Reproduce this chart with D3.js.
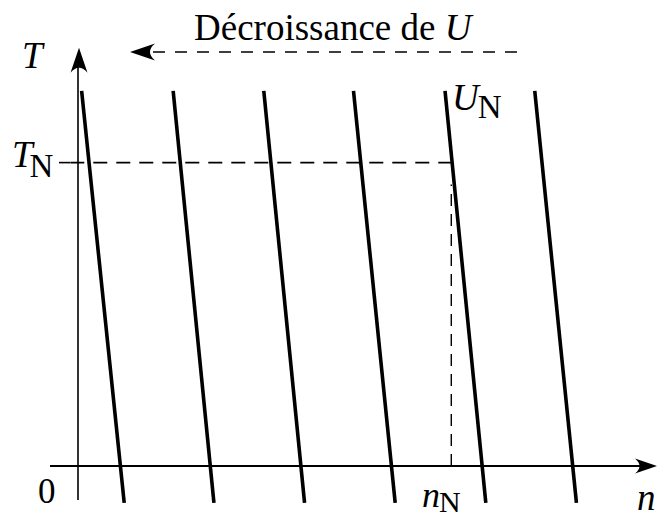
<!DOCTYPE html>
<html>
<head>
<meta charset="utf-8">
<script src="https://cdn.jsdelivr.net/npm/d3@7"></script>
<style>
  html, body { margin: 0; padding: 0; background: #fff; }
  svg { display: block; }
  text { font-family: "Liberation Serif", "Times New Roman", serif; fill: #000; }
</style>
</head>
<body>
<svg id="chart" width="658" height="519"></svg>
<script>
// Torque–speed characteristics of the motor for decreasing supply voltage U.
// Each characteristic is a straight segment: speed n at the top and bottom torque values.
const curveNames = ["U1", "U2", "U3", "U4", "UN", "U6"];
const nAtTop     = [0.04, 1.05, 2.05, 3.04, 4.05, 5.04];
const nAtBottom  = [0.51, 1.50, 2.50, 3.50, 4.50, 5.50];
const torqueTop = 0.915;
const torqueBottom = -0.09;

// Nominal operating point on the U_N characteristic
const torqueNominal = 0.74;
const speedNominal = 4.13;

const svg = d3.select("#chart");
const x = d3.scaleLinear().domain([0, 6.4]).range([78, 658]);
const y = d3.scaleLinear().domain([0, 1]).range([466, 56]);

// arrow heads with a concave back
function arrowHead(tipX, tipY, angle, len, half, notch) {
  const p = d3.path();
  p.moveTo(0, 0);
  p.lineTo(-len, -half);
  p.quadraticCurveTo(-len + notch, 0, -len, half);
  p.closePath();
  svg.append("path")
    .attr("d", p.toString())
    .attr("transform", `translate(${tipX},${tipY}) rotate(${angle})`)
    .attr("fill", "#000");
}

// axes
svg.append("line")
  .attr("x1", x(0)).attr("x2", x(0))
  .attr("y1", 500).attr("y2", y(0.99))
  .attr("stroke", "#000").attr("stroke-width", 1.6);
arrowHead(x(0) + 1, y(1.02), -90, 25, 8.5, 10);

svg.append("line")
  .attr("x1", 50).attr("x2", 650)
  .attr("y1", y(0)).attr("y2", y(0))
  .attr("stroke", "#000").attr("stroke-width", 2);
arrowHead(657, y(0), 0, 22, 7.5, 9);

// characteristics
const line = d3.line().x(d => x(d[0])).y(d => y(d[1]));
svg.selectAll("path.curve")
  .data(curveNames.map((name, i) => ({ name, pts: [[nAtTop[i], torqueTop], [nAtBottom[i], torqueBottom]] })))
  .join("path")
  .attr("class", "curve")
  .attr("d", d => line(d.pts))
  .attr("fill", "none")
  .attr("stroke", "#000")
  .attr("stroke-width", 3.6);

// nominal point guides (drawn from the curve outwards so the dashes meet it)
svg.append("line")
  .attr("x1", x(speedNominal)).attr("x2", 70)
  .attr("y1", y(torqueNominal)).attr("y2", y(torqueNominal))
  .attr("stroke", "#000").attr("stroke-width", 1.6)
  .attr("stroke-dasharray", "14,9");
// small tick at T_N
svg.append("line")
  .attr("x1", 59).attr("x2", 70)
  .attr("y1", y(torqueNominal)).attr("y2", y(torqueNominal))
  .attr("stroke", "#000").attr("stroke-width", 1.6);
svg.append("line")
  .attr("x1", x(speedNominal) - 1).attr("x2", x(speedNominal) - 1)
  .attr("y1", y(0)).attr("y2", y(torqueNominal) + 22)
  .attr("stroke", "#000").attr("stroke-width", 1.4)
  .attr("stroke-dasharray", "12,8");

// "decreasing U" arrow
svg.append("line")
  .attr("x1", 517).attr("x2", 150)
  .attr("y1", 52).attr("y2", 52)
  .attr("stroke", "#000").attr("stroke-width", 1.5)
  .attr("stroke-dasharray", "12,10");
arrowHead(130, 52, 180, 25, 8.5, 10);

// labels
const title = svg.append("text").attr("x", 194).attr("y", 40).attr("font-size", 37);
title.append("tspan").text("Décroissance de ");
title.append("tspan").attr("font-style", "italic").text("U");

svg.append("text").attr("x", 22).attr("y", 68).attr("font-size", 37)
  .attr("font-style", "italic").text("T");

const tn = svg.append("text").attr("x", 12).attr("y", 167).attr("font-size", 37);
tn.append("tspan").attr("font-style", "italic").text("T");
tn.append("tspan").attr("font-size", 33).attr("dx", -3).attr("dy", 10).text("N");

const un = svg.append("text").attr("x", 452).attr("y", 110).attr("font-size", 37);
un.append("tspan").attr("font-style", "italic").text("U");
un.append("tspan").attr("font-size", 33).attr("dx", -1).attr("dy", 8).text("N");

svg.append("text").attr("x", 38).attr("y", 503).attr("font-size", 35).text("0");

const nn = svg.append("text").attr("x", 422).attr("y", 507).attr("font-size", 36);
nn.append("tspan").attr("font-style", "italic").text("n");
nn.append("tspan").attr("font-size", 30).attr("dx", -1).attr("dy", 5).text("N");

svg.append("text").attr("x", 637).attr("y", 510).attr("font-size", 37)
  .attr("font-style", "italic").text("n");
</script>
</body>
</html>
